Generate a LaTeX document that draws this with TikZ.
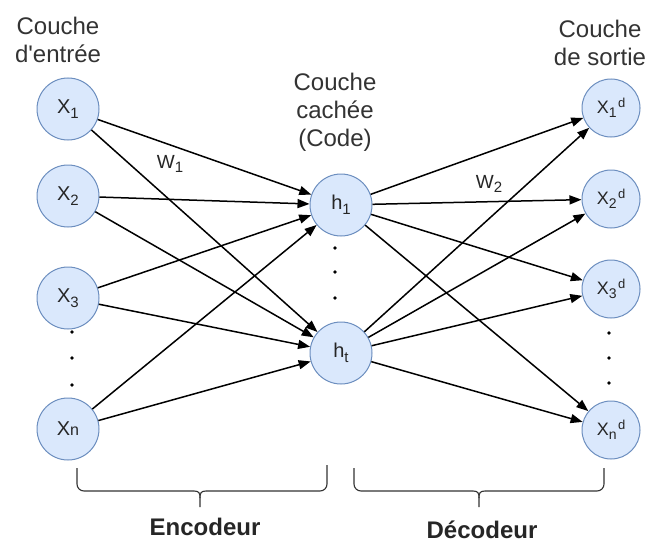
\documentclass[tikz,border=0pt]{standalone}
\usepackage{fontspec}
\setmainfont{Liberation Sans}
\usetikzlibrary{arrows.meta}
\definecolor{nfill}{HTML}{DAE8FC}
\definecolor{nline}{HTML}{6C8EBF}
\definecolor{txt}{HTML}{333333}
\newcommand{\lsub}[1]{\raisebox{-4.5pt}{\fontsize{15}{15}\selectfont #1}}
\newcommand{\osub}[1]{\raisebox{-4.5pt}{\fontsize{14}{14}\selectfont #1}}
\newcommand{\osup}[1]{\hspace{1.5pt}\raisebox{6pt}{\fontsize{13}{13}\selectfont #1}}
\begin{document}
\begin{tikzpicture}[x=1pt,y=-1pt,
 neuron/.style={circle,draw=nline,fill=nfill,line width=1pt,minimum size=62pt,inner sep=0pt,text=black!85,font=\fontsize{20}{22}\selectfont},
 outn/.style={neuron,minimum size=58pt,font=\fontsize{18}{20}\selectfont},
 conn/.style={line width=1.5pt,-{Triangle[length=12pt,width=9pt]}},
 lbl/.style={align=center,text=txt,font=\fontsize{24}{28}\selectfont},
 wlbl/.style={text=black!85,font=\fontsize{19}{20}\selectfont},
 dotm/.style={circle,fill=black,inner sep=0pt,minimum size=3.6pt},
 brc/.style={line width=1.1pt,draw=txt},
 blbl/.style={text=black!85,font=\bfseries\fontsize{24}{26}\selectfont}
]
\useasboundingbox (0,0) rectangle (652,543);
\fill[white] (0,0) rectangle (652,543);

% labels
\node[lbl] (lin) at (58,40) {Couche\\d\textquotesingle entrée};
\node[lbl] (lhid) at (335,112) {Couche\\cachée\\(Code)};
\node[lbl] (lout) at (600,43) {Couche\\de sortie};

% input layer
\node[neuron] (x1) at (68,109) {X\lsub{1}};
\node[neuron] (x2) at (68,196) {X\lsub{2}};
\node[neuron] (x3) at (68,298) {X\lsub{3}};
\node[neuron] (xn) at (68,429) {X{\fontsize{16}{16}\selectfont n}};

% hidden layer
\node[neuron] (h1) at (341,205) {h\lsub{1}};
\node[neuron] (ht) at (341,353) {h\lsub{t}};

% output layer
\node[outn] (y1) at (611,108) {X\osub{1}\osup{d}};
\node[outn] (y2) at (611,199) {X\osub{2}\osup{d}};
\node[outn] (y3) at (611,289) {X\osub{3}\osup{d}};
\node[outn] (yn) at (611,430) {X\osub{n}\osup{d}};

% dots
\node[dotm] (d1) at (72,332) {};
\node[dotm] (d2) at (72,358) {};
\node[dotm] (d3) at (72,385) {};
\node[dotm] (e1) at (335,248) {};
\node[dotm] (e2) at (335,272) {};
\node[dotm] (e3) at (335,298) {};
\node[dotm] (f1) at (609,333) {};
\node[dotm] (f2) at (609,358) {};
\node[dotm] (f3) at (609,383) {};

% weights
\node[wlbl] (w1) at (170,164) {W\lsub{1}};
\node[wlbl] (w2) at (489,184) {W\lsub{2}};

% encoder connections
\foreach \s in {x1,x2,x3,xn}{
  \draw[conn] (\s) -- (h1);
  \draw[conn] (\s) -- (ht);
}
% decoder connections
\foreach \t in {y1,y2,y3,yn}{
  \draw[conn] (h1) -- (\t);
  \draw[conn] (ht) -- (\t);
}

% braces
\draw[brc,rounded corners=7pt] (77,468) -- (77,491) -- (194,491);
\draw[brc,rounded corners=7pt] (327,465) -- (327,491) -- (206,491);
\draw[brc] (194,491) .. controls (199,491) and (200,493) .. (200,498) -- (200,507);
\draw[brc] (206,491) .. controls (201,491) and (200,493) .. (200,498);

\draw[brc,rounded corners=7pt] (354,468) -- (354,491) -- (473,491);
\draw[brc,rounded corners=7pt] (604,468) -- (604,491) -- (485,491);
\draw[brc] (473,491) .. controls (478,491) and (479,493) .. (479,498) -- (479,507);
\draw[brc] (485,491) .. controls (480,491) and (479,493) .. (479,498);

\node[blbl] (enc) at (205,527) {Encodeur};
\node[blbl] (dec) at (482,530) {Décodeur};
\end{tikzpicture}
\end{document}
